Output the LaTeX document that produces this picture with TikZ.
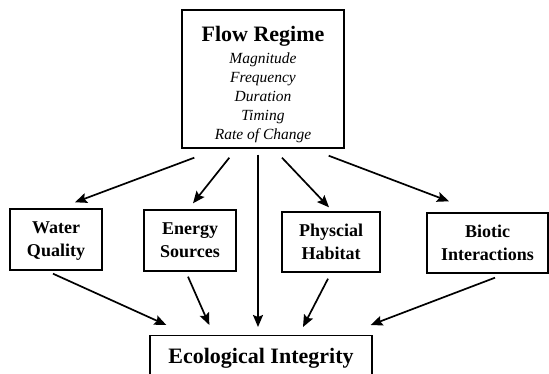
\documentclass[tikz,border=0pt]{standalone}
\usepackage{fontspec}
\setmainfont{Liberation Serif}
\usetikzlibrary{arrows.meta, positioning}

\begin{document}
\begin{tikzpicture}[x=1pt, y=-1pt,
    box/.style={draw, line width=1.4pt, align=center, inner sep=2pt, text depth=0pt,
        font=\fontsize{18}{23}\selectfont\bfseries},
    link/.style={-{Stealth[length=12pt, width=10pt, inset=2pt]}, line width=1.7pt}]
    \clip (0,0) rectangle (549,374);

    % Top box
    \node[box, minimum width=162pt, minimum height=138pt,
        font=\fontsize{15.5}{19}\selectfont\itshape] (flow) at (263,79)
        {\rule{0pt}{24pt}{\fontsize{22}{22}\selectfont\bfseries\upshape Flow Regime}\\[3pt]
         Magnitude\\ Frequency\\ Duration\\ Timing\\ Rate of Change};

    % Middle row
    \node[box, minimum width=92pt, minimum height=61pt] (water) at (56,239.5) {Water\\Quality};
    \node[box, minimum width=92pt, minimum height=61pt] (energy) at (190,240.5) {Energy\\Sources};
    \node[box, minimum width=98pt, minimum height=60pt] (habitat) at (331,242) {Physcial\\Habitat};
    \node[box, minimum width=121pt, minimum height=60pt] (biotic) at (487.5,243) {Biotic\\Interactions};

    % Bottom box
    \node[box, anchor=north, minimum width=222pt, inner ysep=13pt, text height=15pt, text depth=5pt,
        font=\fontsize{22}{22}\selectfont\bfseries] (eco) at (261,335) {Ecological Integrity};

    % Arrows from the flow regime
    \draw[link] ([xshift=13pt, yshift=-9pt]flow.south west) -- ([xshift=19pt, yshift=6pt]water.north);
    \draw[link] ([xshift=48pt, yshift=-9pt]flow.south west) -- ([xshift=3pt, yshift=6pt]energy.north);
    \draw[link] ([xshift=-5pt, yshift=-6pt]flow.south) -- ([xshift=-3pt, yshift=8pt]eco.north);
    \draw[link] ([xshift=19pt, yshift=-9pt]flow.south) -- ([xshift=-2pt, yshift=4pt]habitat.north);
    \draw[link] ([xshift=-16pt, yshift=-7pt]flow.south east) -- ([xshift=-38.5pt, yshift=11pt]biotic.north);

    % Arrows to ecological integrity
    \draw[link] ([xshift=-3pt, yshift=-3pt]water.south) -- ([xshift=17pt, yshift=10pt]eco.north west);
    \draw[link] ([xshift=-2pt, yshift=-5pt]energy.south) -- ([xshift=60pt, yshift=10pt]eco.north west);
    \draw[link] ([xshift=-3pt, yshift=-6pt]habitat.south) -- ([xshift=42pt, yshift=8pt]eco.north);
    \draw[link] ([xshift=7.5pt, yshift=-4pt]biotic.south) -- ([xshift=-2pt, yshift=10pt]eco.north east);
\end{tikzpicture}
\end{document}
